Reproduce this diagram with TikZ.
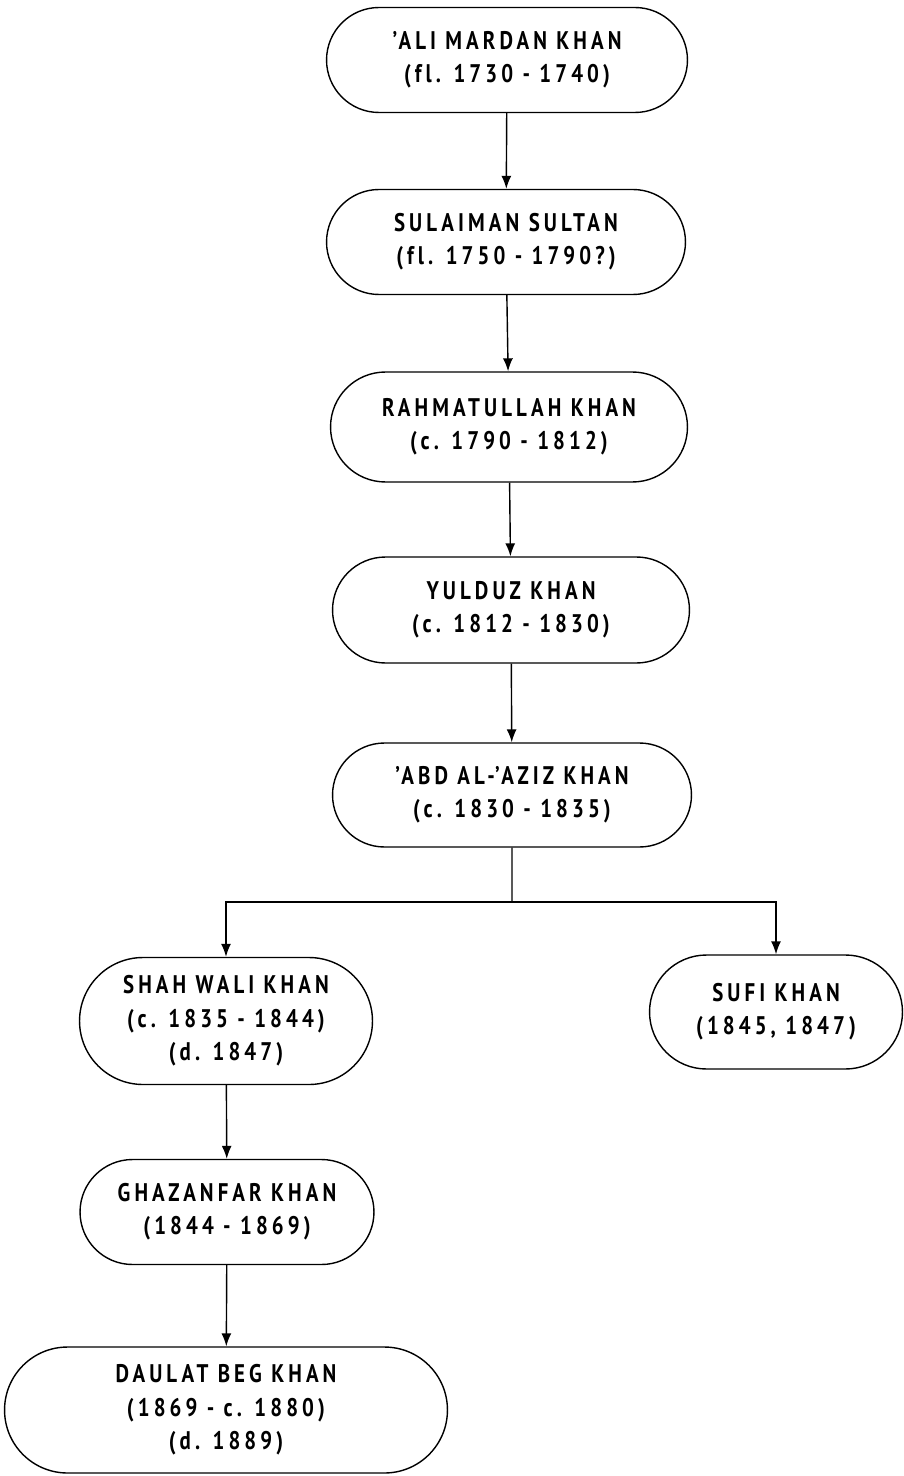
\documentclass[tikz,border=0pt]{standalone}
\usepackage{fontspec}
\setmainfont{PT Sans}[FakeStretch=0.82,LetterSpace=16,Ligatures=NoCommon]
\usetikzlibrary{arrows.meta,shapes.misc}

\tikzset{
	ruler/.style={draw, thick, rounded rectangle, rounded rectangle arc length=180,
		align=center, font=\bfseries\fontsize{14.5}{19}\selectfont, inner sep=0pt},
	link/.style={thick, -{Latex[length=2.6mm,width=2mm]}}
}

\begin{document}
\begin{tikzpicture}[x=0.02cm, y=-0.02cm]
		% frame
		\useasboundingbox (0,0) rectangle (903,1476);
		
		% rulers, top to bottom
		\node[ruler, minimum width=7.22cm, minimum height=2.1cm] (ali) at (507,60)
		{'ALI MARDAN KHAN\\(fl. 1730 - 1740)};
		
		\node[ruler, minimum width=7.18cm, minimum height=2.1cm] (sulaiman) at (506,242)
		{SULAIMAN SULTAN\\(fl. 1750 - 1790?)};
		
		\node[ruler, minimum width=7.14cm, minimum height=2.2cm] (rahmat) at (509,427)
		{RAHMATULLAH KHAN\\(c. 1790 - 1812)};
		
		\node[ruler, minimum width=7.14cm, minimum height=2.12cm] (yulduz) at (511,610)
		{YULDUZ KHAN\\(c. 1812 - 1830)};
		
		\node[ruler, minimum width=7.18cm, minimum height=2.08cm] (aziz) at (512,795)
		{'ABD AL-'AZIZ KHAN\\(c. 1830 - 1835)};
		
		\node[ruler, minimum width=5.86cm, minimum height=2.54cm] (shah) at (226,1021)
		{SHAH WALI KHAN\\(c. 1835 - 1844)\\(d. 1847)};
		
		\node[ruler, minimum width=5.06cm, minimum height=2.28cm] (sufi) at (776,1012)
		{SUFI KHAN\\(1845, 1847)};
		
		\node[ruler, minimum width=5.88cm, minimum height=2.1cm] (ghazanfar) at (227,1212)
		{GHAZANFAR KHAN\\(1844 - 1869)};
		
		\node[ruler, minimum width=8.86cm, minimum height=2.52cm] (daulat) at (226,1410)
		{DAULAT BEG KHAN\\(1869 - c. 1880)\\(d. 1889)};
		
		% succession
		\draw[link] (ali) -- (sulaiman);
		\draw[link] (sulaiman) -- (rahmat);
		\draw[link] (rahmat) -- (yulduz);
		\draw[link] (yulduz) -- (aziz);
		
		% split to the two sons
		\coordinate (split) at (aziz.south |- 0,902);
		\draw[thick] (aziz) -- (split);
		\draw[link] (split) -| (shah.north);
		\draw[link] (split) -| (sufi.north);
		
		\draw[link] (shah) -- (ghazanfar);
		\draw[link] (ghazanfar) -- (daulat);
		
	\end{tikzpicture}
\end{document}
